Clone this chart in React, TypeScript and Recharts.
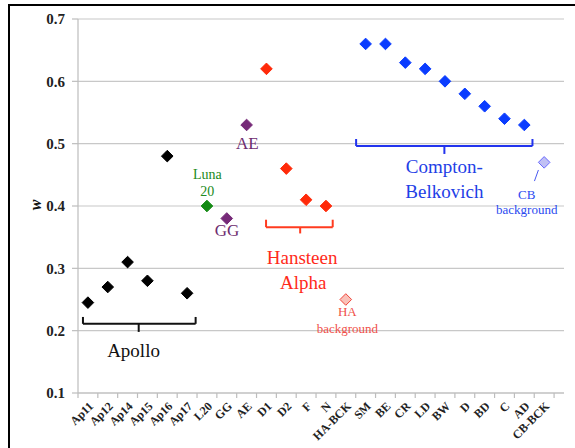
import React from 'react';
import {
  ScatterChart,
  Scatter,
  XAxis,
  YAxis,
  CartesianGrid,
  ReferenceLine,
  ReferenceDot,
} from 'recharts';

// ---------- data ----------
const categories = [
  'Ap11', 'Ap12', 'Ap14', 'Ap15', 'Ap16', 'Ap17', 'L20', 'GG', 'AE',
  'D1', 'D2', 'F', 'N', 'HA-BCK',
  'SM', 'BE', 'CR', 'LD', 'BW', 'D', 'BD', 'C', 'AD', 'CB-BCK',
];
const wValues = [
  0.245, 0.27, 0.31, 0.28, 0.48, 0.26, 0.40, 0.38, 0.53,
  0.62, 0.46, 0.41, 0.40, 0.25,
  0.66, 0.66, 0.63, 0.62, 0.60, 0.58, 0.56, 0.54, 0.53, 0.47,
];
const groups = [
  'apollo', 'apollo', 'apollo', 'apollo', 'apollo', 'apollo', 'luna', 'purple', 'purple',
  'ha', 'ha', 'ha', 'ha', 'habg',
  'cb', 'cb', 'cb', 'cb', 'cb', 'cb', 'cb', 'cb', 'cb', 'cbbg',
];
const yTicks = [0.1, 0.2, 0.3, 0.4, 0.5, 0.6, 0.7];

// ---------- styles ----------
const groupStyle: Record<string, { fill: string; stroke: string }> = {
  apollo: { fill: '#000000', stroke: '#000000' },
  luna: { fill: '#138a13', stroke: '#138a13' },
  purple: { fill: '#762a78', stroke: '#762a78' },
  ha: { fill: '#ff2a0a', stroke: '#ff2a0a' },
  habg: { fill: '#f9c0b8', stroke: '#f0443a' },
  cb: { fill: '#0a3cff', stroke: '#0a3cff' },
  cbbg: { fill: '#c0c0f4', stroke: '#6a6aff' },
};
const groupOrder = ['apollo', 'luna', 'purple', 'ha', 'habg', 'cb', 'cbbg'];

const rows = categories.map((c, i) => ({ x: i, y: wValues[i], name: c, group: groups[i] }));

const SERIF = 'Liberation Serif, Tinos, DejaVu Serif, Times New Roman, serif';

// annotations (text in data coordinates)
const notes = [
  { t: 'Apollo', x: 2.3, y: 0.168, c: '#111111', s: 19 },
  { t: 'Luna', x: 6.02, y: 0.45, c: '#218a21', s: 14 },
  { t: '20', x: 6.02, y: 0.4225, c: '#218a21', s: 14 },
  { t: 'AE', x: 8.04, y: 0.501, c: '#6e2d70', s: 17 },
  { t: 'GG', x: 7.01, y: 0.36, c: '#6e2d70', s: 17 },
  { t: 'Hansteen', x: 10.8, y: 0.3166, c: '#ff2a1a', s: 19 },
  { t: 'Alpha', x: 10.85, y: 0.278, c: '#ff2a1a', s: 19 },
  { t: 'HA', x: 13.08, y: 0.23, c: '#f0504a', s: 13 },
  { t: 'background', x: 13.08, y: 0.204, c: '#f0504a', s: 13 },
  { t: 'Compton-', x: 17.97, y: 0.4626, c: '#1e40e6', s: 19 },
  { t: 'Belkovich', x: 17.97, y: 0.424, c: '#1e40e6', s: 19 },
  { t: 'CB', x: 22.12, y: 0.419, c: '#2a4af0', s: 13 },
  { t: 'background', x: 22.12, y: 0.3936, c: '#2a4af0', s: 13 },
];

const brackets = [
  { x0: -0.25, x1: 5.43, yEnd: 0.222, yLine: 0.211, xm: 2.56, yt: 0.198, c: '#111111' },
  { x0: 8.98, x1: 12.34, yEnd: 0.378, yLine: 0.366, xm: 10.7, yt: 0.356, c: '#ff3b1f' },
  { x0: 13.52, x1: 22.41, yEnd: 0.5075, yLine: 0.4963, xm: 17.97, yt: 0.4835, c: '#2233ee' },
];

const boundaries = Array.from({ length: categories.length + 1 }, (_, i) => i - 0.5);

const Diamond = (props: any) => {
  const { cx, cy, payload } = props;
  const st = groupStyle[payload.group];
  const h = 5.8;
  return (
    <polygon
      points={`${cx},${cy - h} ${cx + h},${cy} ${cx},${cy + h} ${cx - h},${cy}`}
      fill={st.fill}
      stroke={st.stroke}
      strokeWidth={1}
    />
  );
};

const XTick = (props: any) => {
  const { x, y, payload } = props;
  const label = categories[payload.value];
  return (
    <g transform={`translate(${x + 3},${y + 11})`}>
      <text
        x={0}
        y={0}
        dy="0.35em"
        textAnchor="end"
        transform="rotate(-45)"
        fontFamily={SERIF}
        fontWeight="bold"
        fontSize={12}
        fill="#222"
      >
        {label}
      </text>
    </g>
  );
};

const YLabel = (props: any) => {
  const { viewBox } = props;
  const x = viewBox.x + 17;
  const y = 205;
  return (
    <text
      x={x}
      y={y}
      transform={`rotate(-90, ${x}, ${y})`}
      textAnchor="middle"
      dominantBaseline="central"
      fontFamily={SERIF}
      fontStyle="italic"
      fontWeight="bold"
      fontSize={16}
      fill="#111"
    >
      w
    </text>
  );
};

export default function App() {
  return (
    <div style={{ position: 'absolute', left: 0, top: 0, width: 575, height: 448, background: '#fff', overflow: 'hidden', fontFamily: SERIF }}>
      <div
        style={{
          position: 'absolute',
          left: 8,
          top: 4,
          width: 567,
          height: 444,
          borderLeft: '2px solid #000',
          borderTop: '2px solid #000',
          boxSizing: 'border-box',
        }}
      />
      <div style={{ position: 'absolute', left: 0, top: 0 }}>
        <ScatterChart width={575} height={448} margin={{ top: 19, right: 11, left: 18, bottom: 5 }} style={{ fontFamily: SERIF }}>
          <CartesianGrid vertical={false} stroke="#c8c8c8" strokeWidth={1.2} />
          <XAxis
            type="number"
            dataKey="x"
            domain={[-0.5, 23.5]}
            ticks={categories.map((_, i) => i)}
            interval={0}
            allowDecimals={false}
            height={50}
            tickLine={false}
            tickSize={0}
            tickMargin={0}
            axisLine={{ stroke: '#bdbdbd', strokeWidth: 1.2 }}
            tick={<XTick />}
          />
          <YAxis
            type="number"
            dataKey="y"
            domain={[0.1, 0.7]}
            ticks={yTicks}
            interval={0}
            width={60}
            tickSize={6}
            tickMargin={7}
            tickLine={{ stroke: '#bdbdbd', strokeWidth: 1.2 }}
            axisLine={{ stroke: '#bdbdbd', strokeWidth: 1.2 }}
            tickFormatter={(v: number) => v.toFixed(1)}
            tick={{ fontFamily: SERIF, fontWeight: 'bold', fontSize: 15, fill: '#222' }}
            label={<YLabel />}
          />
          {boundaries.map((b) => (
            <ReferenceLine
              key={'b' + b}
              segment={[{ x: b, y: 0.1 }, { x: b, y: 0.092 }]}
              stroke="#bdbdbd"
              strokeWidth={1.2}
              ifOverflow="visible"
            />
          ))}
          {brackets.map((br, i) => [
            <ReferenceLine key={'bl' + i} segment={[{ x: br.x0, y: br.yLine }, { x: br.x1, y: br.yLine }]} stroke={br.c} strokeWidth={2} ifOverflow="visible" />,
            <ReferenceLine key={'bla' + i} segment={[{ x: br.x0, y: br.yEnd }, { x: br.x0, y: br.yLine }]} stroke={br.c} strokeWidth={2} ifOverflow="visible" />,
            <ReferenceLine key={'blb' + i} segment={[{ x: br.x1, y: br.yEnd }, { x: br.x1, y: br.yLine }]} stroke={br.c} strokeWidth={2} ifOverflow="visible" />,
            <ReferenceLine key={'blc' + i} segment={[{ x: br.xm, y: br.yLine }, { x: br.xm, y: br.yt }]} stroke={br.c} strokeWidth={2} ifOverflow="visible" />,
          ])}
          <ReferenceLine
            segment={[{ x: 22.71, y: 0.4578 }, { x: 22.51, y: 0.44 }]}
            stroke="#4a5af0"
            strokeWidth={1}
            ifOverflow="visible"
          />
          {groupOrder.map((g) => (
            <Scatter
              key={g}
              data={rows.filter((r) => r.group === g)}
              shape={<Diamond />}
              isAnimationActive={false}
            />
          ))}
          {notes.map((n, i) => (
            <ReferenceDot
              key={'n' + i}
              x={n.x}
              y={n.y}
              r={0}
              ifOverflow="visible"
              shape={(p: any) => (
                <text
                  x={p.cx}
                  y={p.cy}
                  textAnchor="middle"
                  dominantBaseline="central"
                  fontFamily={SERIF}
                  fontSize={n.s}
                  fill={n.c}
                >
                  {n.t}
                </text>
              )}
            />
          ))}
        </ScatterChart>
      </div>
    </div>
  );
}
